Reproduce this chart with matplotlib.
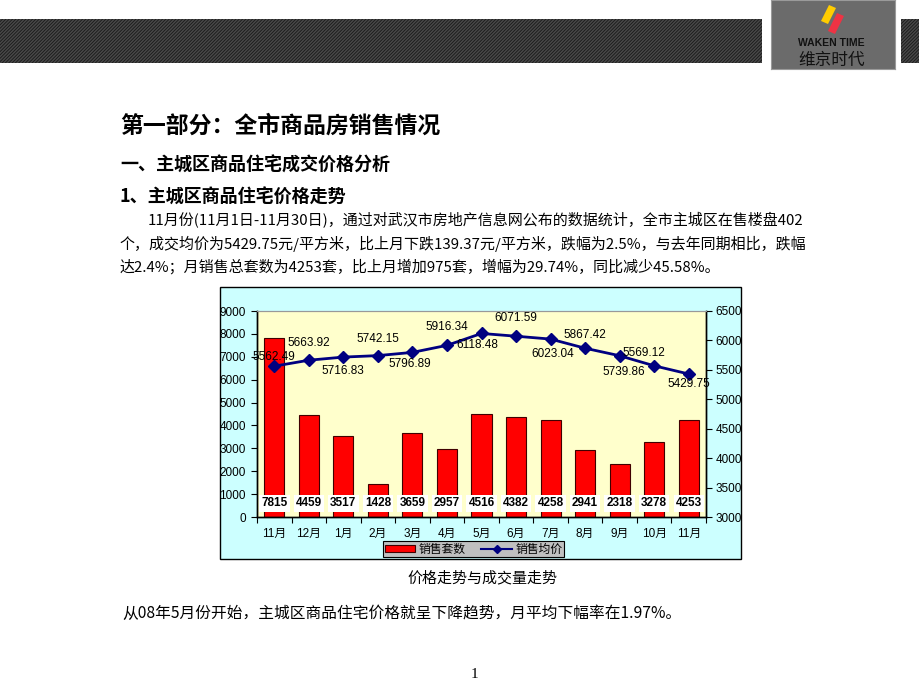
import matplotlib
matplotlib.use('Agg')
import matplotlib.pyplot as plt
from matplotlib.patches import Rectangle, Polygon, Patch
from matplotlib.lines import Line2D
import numpy as np

# ---------------- data ----------------
months = ["11月", "12月", "1月", "2月", "3月", "4月", "5月", "6月", "7月", "8月", "9月", "10月", "11月"]
units_sold = [7815, 4459, 3517, 1428, 3659, 2957, 4516, 4382, 4258, 2941, 2318, 3278, 4253]
avg_price = [5562.49, 5663.92, 5716.83, 5742.15, 5796.89, 5916.34, 6118.48,
             6071.59, 6023.04, 5867.42, 5739.86, 5569.12, 5429.75]
left_ticks = list(range(0, 9001, 1000))
right_ticks = list(range(3000, 6501, 500))
series_names = ["销售套数", "销售均价"]

title = "第一部分：全市商品房销售情况"
heading1 = "一、主城区商品住宅成交价格分析"
heading2 = "1、主城区商品住宅价格走势"
para_lines = [
    "11月份(11月1日-11月30日)，通过对武汉市房地产信息网公布的数据统计，全市主城区在售楼盘402",
    "个，成交均价为5429.75元/平方米，比上月下跌139.37元/平方米，跌幅为2.5%，与去年同期相比，跌幅",
    "达2.4%；月销售总套数为4253套，比上月增加975套，增幅为29.74%，同比减少45.58%。",
]
caption = "价格走势与成交量走势"
footer = "从08年5月份开始，主城区商品住宅价格就呈下降趋势，月平均下幅率在1.97%。"
page_no = "1"

# ---------------- layout helpers ----------------
W, H = 920, 690
CJK = ['Noto Sans CJK SC', 'DejaVu Sans']
LAT = ['Liberation Sans', 'Noto Sans CJK SC']
plt.rcParams['hatch.linewidth'] = 1.1

fig = plt.figure(figsize=(W / 100, H / 100), dpi=100)
fig.patch.set_facecolor('white')


def fx(x):
    return x / W


def fy(y):
    return 1 - y / H


def frect(x0, y0, x1, y1, **kw):
    r = Rectangle((fx(x0), fy(y1)), fx(x1) - fx(x0), fy(y0) - fy(y1),
                  transform=fig.transFigure, **kw)
    fig.add_artist(r)
    return r


# header hatched bands
frect(0, 19, 762, 63, facecolor='#181818', edgecolor='#484848', lw=0, hatch='//////////', zorder=-2)
frect(901, 19, 920, 63, facecolor='#181818', edgecolor='#484848', lw=0, hatch='//////////', zorder=-2)

# logo box drawn in its own pixel-space axes
lx0, ly0, lx1, ly1 = 771, 0, 895, 69
lax = fig.add_axes([fx(lx0), fy(ly1), fx(lx1) - fx(lx0), fy(ly0) - fy(ly1)])
lax.set_xlim(lx0, lx1)
lax.set_ylim(ly1, ly0)
lax.set_facecolor('#6b6b6b')
lax.set_xticks([])
lax.set_yticks([])
for s in lax.spines.values():
    s.set_color('#9a9a9a')
    s.set_linewidth(0.8)
lax.add_patch(Polygon([(829, 5), (836, 8), (828, 24), (821, 21)], closed=True,
                      facecolor='#FFCC00', edgecolor='none'))
lax.add_patch(Polygon([(837, 13), (844, 16), (835, 34), (828, 31)], closed=True,
                      facecolor='#EE3344', edgecolor='none'))
lax.text(831, 43, "WAKEN TIME", fontsize=7.5, fontweight='bold', color='#111111',
         ha='center', va='center', family=['Liberation Sans'])
lax.text(832, 60, "维京时代", fontsize=12, color='#111111',
         ha='center', va='center', family=CJK)

# texts
fig.text(fx(120), fy(126), title, fontsize=16.5, fontweight='bold', va='center', family=CJK)
fig.text(fx(120), fy(165), heading1, fontsize=13, fontweight='bold', va='center', family=CJK)
fig.text(fx(120), fy(197), heading2, fontsize=13, fontweight='bold', va='center', family=CJK)
para_x = [148, 120, 120]
para_y = [220, 244, 267]
for s, px, py in zip(para_lines, para_x, para_y):
    fig.text(fx(px), fy(py), s, fontsize=10.8, va='center', family=CJK)
fig.text(fx(482), fy(578), caption, fontsize=10.8, ha='center', va='center', family=CJK)
fig.text(fx(122), fy(613), footer, fontsize=11.3, va='center', family=CJK)
fig.text(fx(474), fy(674), page_no, fontsize=11, ha='center', va='center', family=['Liberation Serif'])

# chart background
frect(220, 287, 741, 559, facecolor='#CCFFFF', edgecolor='black', lw=1, zorder=-1)

# ---------------- chart ----------------
ax = fig.add_axes([fx(257), fy(517), fx(706) - fx(257), fy(311) - fy(517)])
ax.set_facecolor('#FFFFCC')
x = np.arange(len(months))
ax.bar(x, units_sold, width=0.58, color='#FF0000', edgecolor='#400000', lw=0.8, zorder=2)
ax.set_xlim(-0.5, len(months) - 0.5)
ax.set_ylim(0, 9000)
ax.set_yticks(left_ticks)
ax.set_yticklabels([str(t) for t in left_ticks], family=LAT, fontsize=8.5)
ax.set_xticks(x)
ax.set_xticklabels(months, family=LAT, fontsize=8.5)
ax.set_xticks(np.arange(-0.5, len(months), 1.0), minor=True)
ax.tick_params(axis='x', which='major', length=0, pad=8)
ax.tick_params(axis='x', which='minor', length=4, direction='out', width=0.8)
ax.tick_params(axis='y', length=4, direction='out', pad=4, width=0.8)

for i, v in enumerate(units_sold):
    ax.text(i, 590, str(v), ha='center', va='center', fontsize=8.5, fontweight='bold',
            family=LAT, zorder=4,
            bbox=dict(boxstyle='square,pad=0.18', fc='white', ec='none'))

ax2 = ax.twinx()
ax2.plot(x, avg_price, color='#000080', lw=2, marker='D', ms=6, mfc='#000080', mec='#000080', zorder=3)
ax2.set_ylim(3000, 6500)
ax2.set_yticks(right_ticks)
ax2.set_yticklabels([str(t) for t in right_ticks], family=LAT, fontsize=8.5)
ax2.tick_params(axis='y', length=4, direction='out', pad=3, width=0.8)

label_offsets = [(0, 9), (0, 17), (0, -14), (0, 17), (-3, -12), (0, 18), (-4, -12),
                 (0, 18), (2, -15), (0, 13), (4, -16), (-10, 13), (0, -10)]
for i, v in enumerate(avg_price):
    dx, dy = label_offsets[i]
    ax2.annotate(f"{v:.2f}", (i, v), xytext=(dx, dy), textcoords='offset pixels',
                 ha='center', va='center', fontsize=8.5, family=LAT, zorder=5)

for a in (ax, ax2):
    a.spines['top'].set_color('#999999')
    a.spines['top'].set_linewidth(0.8)
    for s in ('left', 'right', 'bottom'):
        a.spines[s].set_color('black')
        a.spines[s].set_linewidth(1)

handles = [Patch(facecolor='#FF0000', edgecolor='#400000', lw=0.8),
           Line2D([], [], color='#000080', lw=1.5, marker='D', ms=4)]
leg = fig.legend(handles, series_names, loc='center', bbox_to_anchor=(fx(473.5), fy(549)),
                 ncol=2, frameon=True, fancybox=False, facecolor='#C0C0C0', edgecolor='black',
                 framealpha=1, prop={'family': CJK, 'size': 8.5}, handlelength=2.6,
                 handleheight=0.55, handletextpad=0.3, columnspacing=1.3,
                 borderpad=0.12, borderaxespad=0)
leg.get_frame().set_linewidth(0.8)

fig.savefig('out.png', dpi=100, facecolor='white')
